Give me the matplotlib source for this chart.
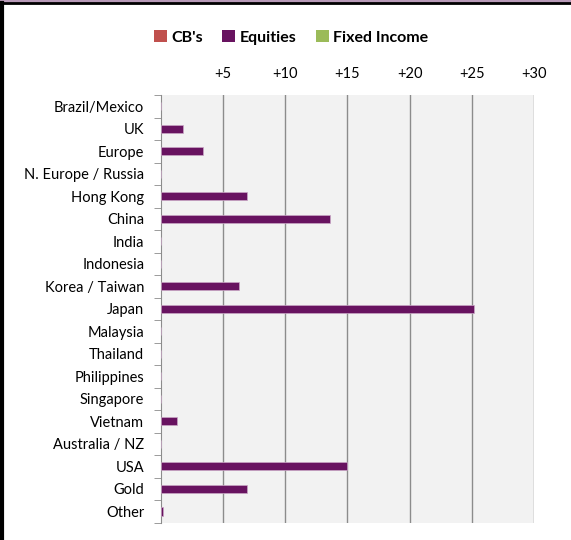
import matplotlib.pyplot as plt
from matplotlib.lines import Line2D
from matplotlib.patches import Patch
import numpy as np

plt.rcParams['font.family'] = ['Lato', 'DejaVu Sans']

# categories, top to bottom
regions = ['Brazil/Mexico', 'UK', 'Europe', 'N. Europe / Russia', 'Hong Kong',
           'China', 'India', 'Indonesia', 'Korea / Taiwan', 'Japan', 'Malaysia',
           'Thailand', 'Philippines', 'Singapore', 'Vietnam', 'Australia / NZ',
           'USA', 'Gold', 'Other']
cbs = [0] * len(regions)
equities = [0, 1.8, 3.4, 0, 6.9, 13.6, 0, 0, 6.3, 25.2, 0, 0, 0, 0, 1.3, 0, 15.0, 6.9, 0.15]
fixed_income = [0] * len(regions)

series_names = ["CB's", 'Equities', 'Fixed Income']
series_colors = ['#C0504D', '#681360', '#9BBB59']
ticks = [5, 10, 15, 20, 25, 30]
tick_labels = ['+5', '+10', '+15', '+20', '+25', '+30']

fig = plt.figure(figsize=(5.71, 5.40), dpi=100)
ax = fig.add_axes([0.282, 0.032, 0.653, 0.792])

y = np.arange(len(regions))
h = 0.36
for vals, off, col in zip([cbs, equities, fixed_income], [-h, 0, h], series_colors):
    edge = '#C9A6C6' if col == '#681360' else 'none'
    ax.barh(y + off, vals, height=h, color=col, edgecolor=edge, linewidth=0.5, zorder=3)

ax.set_facecolor('#F2F2F2')
ax.set_xlim(0, 30)
ax.set_ylim(len(regions) - 0.5, -0.5)
ax.xaxis.tick_top()
ax.set_xticks(ticks)
ax.set_xticklabels(tick_labels)
ax.tick_params(axis='x', length=0, pad=10, labelsize=10.5)
ax.grid(axis='x', color='#8C8C8C', linewidth=1.0, zorder=1)

ax.set_yticks(y)
ax.set_yticklabels(regions)
ax.tick_params(axis='y', length=0, pad=12, labelsize=10.5)
# minor ticks at category boundaries
ax.set_yticks(np.arange(-0.5, len(regions), 1), minor=True)
ax.tick_params(axis='y', which='minor', length=5, color='#8C8C8C', direction='out')

for s in ['top', 'right', 'bottom']:
    ax.spines[s].set_visible(False)
ax.spines['left'].set_color('#8C8C8C')

handles = [Patch(facecolor=c, edgecolor='none') for c in series_colors]
fig.legend(handles, series_names, loc='center', bbox_to_anchor=(0.51, 0.931),
           ncol=3, frameon=False, handlelength=0.8, handleheight=0.8,
           handletextpad=0.3, columnspacing=1.2, prop={'weight': 'bold', 'size': 11.5})

# frame around the chart
fig.add_artist(Line2D([0, 1], [0.998, 0.998], color='#B89AB8', linewidth=3, transform=fig.transFigure))
fig.add_artist(Line2D([0, 1], [0.994, 0.994], color='black', linewidth=2, transform=fig.transFigure))
fig.add_artist(Line2D([0.003, 0.003], [0, 0.995], color='black', linewidth=3, transform=fig.transFigure))

fig.savefig('out.png', dpi=100)
